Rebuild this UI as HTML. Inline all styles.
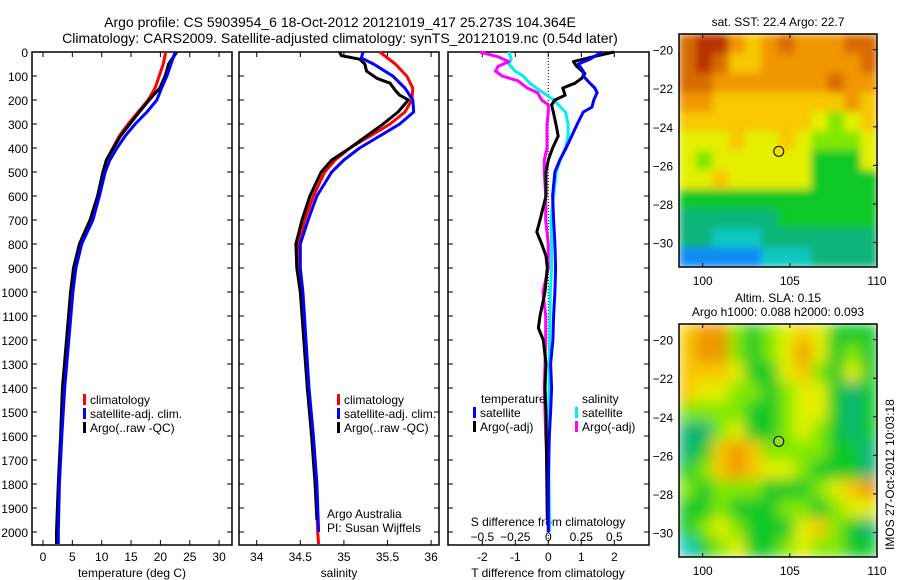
<!DOCTYPE html>
<html><head><meta charset="utf-8"><style>
html,body{margin:0;padding:0;background:#fff}
svg{display:block;font-family:"Liberation Sans",sans-serif}
</style></head><body>
<svg id="fig" width="900" height="580" viewBox="0 0 900 580" xmlns="http://www.w3.org/2000/svg">
<defs>
<filter id="blurS" x="0" y="0" width="1" height="1"><feGaussianBlur stdDeviation="4" edgeMode="duplicate"/></filter>
<filter id="blurL" x="0" y="0" width="1" height="1"><feGaussianBlur stdDeviation="7" edgeMode="duplicate"/></filter>
<clipPath id="clipTop"><rect x="679" y="34" width="198" height="233"/></clipPath>
<clipPath id="clipBot"><rect x="679" y="324" width="198" height="233"/></clipPath>
</defs>
<text x="340" y="27" font-size="14" text-anchor="middle">Argo profile: CS 5903954_6 18-Oct-2012 20121019_417 25.273S 104.364E</text>
<text x="340" y="43" font-size="14" text-anchor="middle">Climatology: CARS2009. Satellite-adjusted climatology: synTS_20121019.nc (0.54d later)</text>
<g id="g"></g>
</svg>
<script>
// ---- data ----
const depthTempClim=[0,50,100,150,200,250,300,350,400,450,500,600,700,800,900,1000,1400,1600,1800,2000,2050];
const tempClim=[20.9,20.5,19.8,19.1,17.9,16.2,14.5,13.0,11.9,10.8,10.2,9.4,8.1,6.3,5.3,4.7,3.4,3.1,2.7,2.4,2.4];
const tempArgo=[22.8,21.4,20.8,19.9,18.1,16.4,14.8,13.2,12.0,10.8,10.2,9.3,8.0,6.2,5.2,4.7,3.3,3.0,2.6,2.3,2.3];
const tempSat=[22.5,21.8,21.1,20.2,19.4,17.7,15.7,14.0,12.6,11.4,10.6,9.6,8.5,6.6,5.6,5.1,3.7,3.2,2.8,2.6,2.6];
const depthSalClim=[0,50,100,150,200,250,300,350,400,450,500,600,700,800,900,1000,1400,1600,1800,2000,2050];
const salClim=[35.41,35.59,35.72,35.79,35.78,35.70,35.53,35.30,35.07,34.90,34.78,34.65,34.55,34.47,34.47,34.52,34.59,34.64,34.68,34.70,34.71];
const depthSalSat=[0,25,50,100,150,200,250,300,350,400,450,500,600,700,800,900,1000,1400,1600,1800,2000];
const salSat=[35.22,35.20,35.34,35.56,35.70,35.79,35.80,35.64,35.41,35.18,35.00,34.86,34.69,34.59,34.50,34.50,34.53,34.60,34.65,34.69,34.71];
const depthSalArgo=[0,15,30,50,80,110,130,160,180,200,250,300,350,400,450,500,600,700,800,900,1000,1400,1600,1800,1950];
const salArgo=[34.95,34.97,35.18,35.24,35.26,35.38,35.53,35.59,35.64,35.74,35.62,35.45,35.26,35.07,34.86,34.74,34.61,34.52,34.45,34.46,34.50,34.58,34.63,34.67,34.69];
const depthDT=[0,30,50,80,100,130,150,170,200,230,250,300,350,400,450,500,600,700,800,900,1000,1100,1200,1300,1400,1500,1600,1800,2000];
const dTSat=[1.62,1.26,0.91,1.06,1.06,1.26,1.41,1.48,1.38,1.32,1.06,0.88,0.71,0.54,0.35,0.2,0.13,0.16,0.2,0.22,0.2,0.16,0.14,0.07,0.1,0.07,0.03,0,0];
const depthDTArgo=[0,20,40,60,90,110,130,150,180,200,220,250,300,350,400,450,500,600,700,750,800,850,900,1000,1100,1150,1200,1300,1400,1500,1950];
const dTArgo=[1.99,1.35,0.76,0.86,1.11,1.01,0.81,0.44,0.51,0.2,0.1,0.15,0.23,0.3,0.13,0.0,-0.07,-0.07,-0.25,-0.35,-0.2,-0.07,-0.03,-0.1,-0.25,-0.3,-0.15,-0.07,-0.1,-0.07,-0.03];
const depthDS=[0,30,50,80,100,130,150,180,200,250,300,350,400,450,500,600,700,800,900,1000,1200,1600,2000];
const dSSat=[-0.30,-0.28,-0.30,-0.25,-0.19,-0.14,-0.09,-0.01,0.04,0.13,0.15,0.15,0.13,0.09,0.06,0.04,0.02,0.025,0.025,0.015,0.01,0,0.01];
const depthDSArgo=[0,20,40,60,80,100,120,150,170,200,220,250,300,400,450,500,600,700,800,900,1000,1100,1200,1400,1600,1800,2000];
const dSArgo=[-0.52,-0.38,-0.30,-0.38,-0.40,-0.35,-0.23,-0.16,-0.08,-0.05,0,0,-0.01,-0.01,-0.03,-0.03,-0.02,-0.02,0,0,-0.04,-0.02,-0.02,-0.03,-0.02,0,0];
const depthTicks=[0,100,200,300,400,500,600,700,800,900,1000,1100,1200,1300,1400,1500,1600,1700,1800,1900,2000];
const tempTicks=[0,5,10,15,20,25,30];
const salTicks=[34,34.5,35,35.5,36];
const salTickLabels=["34","34.5","35","35.5","36"];
const dTTicks=[-2,-1,0,1,2];
const dSTicks=[-0.5,-0.25,0,0.25,0.5];
const lonTicks=[100,105,110];
const latTicks=[-20,-22,-24,-26,-28,-30];
const argoLon=104.364, argoLat=-25.273;
const sstGrid=[
[9,10,10,8,7,8,9,8,8,8,9,9],
[9,10,9,7,7,8,8,8,8,8,8,9],
[9,9,8,8,8,8,8,8,8,9,8,8],
[8,8,7,7,7,7,7,7,7,7,8,7],
[7,7,7,7,7,7,7,7,6,5,6,7],
[6,6,6,7,6,6,7,6,5,5,5,6],
[6,5,6,6,6,6,6,6,4,4,4,6],
[6,6,7,6,6,6,6,6,4,4,4,4],
[4,4,4,4,4,4,4,4,4,4,4,4],
[3,3,3,3,3,3,4,4,4,4,4,4],
[3,3,2,2,2,3,3,3,3,3,3,3],
[1,1,1,1,1,2,2,2,3,3,3,3]];
const slaGrid=[
[7,8,8,5,4,5,6,7,6,4,4,4],
[7,8,8,5,4,5,6,8,6,4,5,4],
[7,7,7,6,4,4,6,7,5,4,6,4],
[7,6,6,5,5,4,5,6,6,4,3,4],
[5,5,5,5,4,4,5,6,6,4,3,4],
[3,3,5,6,4,4,5,6,5,4,3,4],
[3,4,7,8,7,5,5,5,5,4,4,3],
[4,5,7,8,7,6,6,5,4,4,4,3],
[5,4,5,5,5,4,4,4,5,6,7,8],
[4,4,5,4,4,4,5,5,4,5,6,6],
[4,5,6,5,4,4,4,6,7,5,4,3],
[2,4,5,6,4,4,5,6,5,5,4,4]];
const palette=["#0a3cc8","#0a8cf5","#10c8c0","#10b478","#10c828","#80e800","#e4f000","#f8c800","#f09600","#d86a00","#b83200"];

// ---- helpers ----
const NS="http://www.w3.org/2000/svg", G=document.getElementById('g');
function mk(t,a,p){const e=document.createElementNS(NS,t);for(const k in a)e.setAttribute(k,a[k]);(p||G).appendChild(e);return e;}
const yD=d=>52+d*0.24;
const xT=t=>43+t*5.87;
const xS=s=>256.7+(s-34)*87.2;
const xDT=v=>548.3+v*33;
const xDS=v=>548.3+v*132;
function panel(x0,x1,name){
  const r=mk('rect',{x:x0,y:52,width:x1-x0,height:493,fill:'none',stroke:'#000','stroke-width':1.5});
  
  
}
function line(ds,vs,fx,col,name){
  const pts=ds.map((d,i)=>fx(vs[i]).toFixed(1)+','+yD(d).toFixed(1)).join(' ');
  const p=mk('polyline',{points:pts,fill:'none',stroke:col,'stroke-width':3,'stroke-linejoin':'round'});
  
  
}
function txt(x,y,s,anchor,size,name){
  const t=mk('text',{x:x,y:y,'font-size':size||12,'text-anchor':anchor||'start'});t.textContent=s;
  
  
  return t;
}
function legend(mx,y,col,label,name){
  const r=mk('rect',{x:mx,y:y-10,width:3,height:11,fill:col});
  
  
  txt(mx+7,y,label,'start',12,name);
}

// ---- panels ----
panel(32,232,'temperature-panel');panel(239,439,'salinity-panel');panel(448,649,'difference-panel');
depthTicks.forEach(d=>{
  txt(28,yD(d)+5,String(d),'end',12,'depth-tick-label');
  [[32,232],[239,439],[448,649]].forEach(([a,b])=>{mk('line',{x1:a,x2:a+5,y1:yD(d),y2:yD(d),stroke:'#000'});mk('line',{x1:b-5,x2:b,y1:yD(d),y2:yD(d),stroke:'#000'});});
});
tempTicks.forEach(t=>{mk('line',{x1:xT(t),x2:xT(t),y1:52,y2:57,stroke:'#000'});mk('line',{x1:xT(t),x2:xT(t),y1:540,y2:545,stroke:'#000'});txt(xT(t),561,String(t),'middle',12,'temperature-tick-label');});
salTicks.forEach((s,i)=>{mk('line',{x1:xS(s),x2:xS(s),y1:52,y2:57,stroke:'#000'});mk('line',{x1:xS(s),x2:xS(s),y1:540,y2:545,stroke:'#000'});txt(xS(s),561,salTickLabels[i],'middle',12,'salinity-tick-label');});
dTTicks.forEach(t=>{mk('line',{x1:xDT(t),x2:xDT(t),y1:540,y2:545,stroke:'#000'});mk('line',{x1:xDT(t),x2:xDT(t),y1:52,y2:57,stroke:'#000'});txt(xDT(t),561,String(t),'middle',12,'t-diff-tick-label');});
dSTicks.forEach(t=>txt(xDS(t),541,String(t).replace('-','\u2212'),'middle',12,'s-diff-tick-label'));
txt(132,577,'temperature (deg C)','middle',12,'temperature-axis-title');
txt(339,577,'salinity','middle',12,'salinity-axis-title');
txt(548,577,'T difference from climatology','middle',12,'t-diff-axis-title');
txt(548,526,'S difference from climatology','middle',12,'s-diff-axis-title');
mk('line',{x1:548.3,x2:548.3,y1:52,y2:545,stroke:'#000','stroke-dasharray':'1,2'});

line(depthTempClim,tempClim,xT,'#f00','temp-climatology-line');
line(depthTempClim,tempArgo,xT,'#000','temp-argo-line');
line(depthTempClim,tempSat,xT,'#00f','temp-satellite-line');
line(depthSalClim,salClim,xS,'#f00','sal-climatology-line');
line(depthSalArgo,salArgo,xS,'#000','sal-argo-line');
line(depthSalSat,salSat,xS,'#00f','sal-satellite-line');
line(depthDS,dSSat,xDS,'#00f0f0','s-diff-satellite-line');
line(depthDSArgo,dSArgo,xDS,'#f0f','s-diff-argo-line');
line(depthDTArgo,dTArgo,xDT,'#000','t-diff-argo-line');
line(depthDT,dTSat,xDT,'#00f','t-diff-satellite-line');

legend(83,404,'#f00','climatology','legend-climatology');
legend(83,418,'#00f','satellite-adj. clim.','legend-satellite-adj');
legend(83,432,'#000','Argo(..raw -QC)','legend-argo-raw');
legend(337,404,'#f00','climatology','legend-climatology-2');
legend(337,418,'#00f','satellite-adj. clim.','legend-satellite-adj-2');
legend(337,432,'#000','Argo(..raw -QC)','legend-argo-raw-2');
txt(327,518,'Argo Australia','start',12,'argo-australia-label');
txt(327,532,'PI: Susan Wijffels','start',12,'pi-label');
txt(481,403,'temperature','start',12,'legend-temperature-header');
legend(473,417,'#00f','satellite','legend-t-satellite');
legend(473,431,'#000','Argo(-adj)','legend-t-argo');
txt(582,403,'salinity','start',12,'legend-salinity-header');
legend(575,417,'#00f0f0','satellite','legend-s-satellite');
legend(575,431,'#f0f','Argo(-adj)','legend-s-argo');

// ---- maps ----
const mx0=679,mx1=877,lonL=98.64,lonR=110,latT=-19.19,latB=-31.27;
function map(y0,grid,name,dotCol,clip,filt){
  const y1=y0+233;
  const gx=lo=>mx0+(lo-lonL)*(mx1-mx0)/(lonR-lonL);
  const gy=la=>y0+(latT-la)*(y1-y0)/(latT-latB);
  const cg=mk('g',{'clip-path':'url(#'+clip+')'});
  const fg=mk('g',{filter:'url(#'+filt+')'},cg);
  const rows=grid.length,cols=grid[0].length,cw=(mx1-mx0)/cols,ch=(y1-y0)/rows;
  grid.forEach((row,r)=>row.forEach((v,c)=>{
    const e=mk('rect',{x:(mx0+c*cw).toFixed(2),y:(y0+r*ch).toFixed(2),width:(cw+0.6).toFixed(2),height:(ch+0.6).toFixed(2),fill:palette[v]},fg);
    
    
  }));
  const b=mk('rect',{x:mx0,y:y0,width:mx1-mx0,height:y1-y0,fill:'none',stroke:'#000','stroke-width':1.5});
  
  
  lonTicks.forEach(l=>{mk('line',{x1:gx(l),x2:gx(l),y1:y0,y2:y0+4,stroke:'#000'});mk('line',{x1:gx(l),x2:gx(l),y1:y1-4,y2:y1,stroke:'#000'});txt(gx(l),y1+18,String(l),'middle',12,name+'-lon-label');});
  latTicks.forEach(l=>{mk('line',{x1:mx1-4,x2:mx1,y1:gy(l),y2:gy(l),stroke:'#000'});txt(673,gy(l)+5,String(l).replace('-','\u2212'),'end',12,name+'-lat-label');});
  const c=mk('circle',{cx:gx(argoLon),cy:gy(argoLat),r:5,fill:dotCol,stroke:'#000','stroke-width':1});
  
  
}
map(34,sstGrid,'sst-map','#f0e000','clipTop','blurS');
map(324,slaGrid,'sla-map','#90e020','clipBot','blurL');
txt(778,26,'sat. SST: 22.4 Argo: 22.7','middle',12,'sst-map-title');
txt(778,302,'Altim. SLA: 0.15','middle',12,'sla-map-title');
txt(778,316,'Argo h1000: 0.088 h2000: 0.093','middle',12,'sla-map-subtitle');
const r=txt(0,0,'IMOS 27-Oct-2012 10:03:18','start',12,'imos-timestamp');
r.setAttribute('transform','translate(894,550) rotate(-90)');
</script>
</body></html>
